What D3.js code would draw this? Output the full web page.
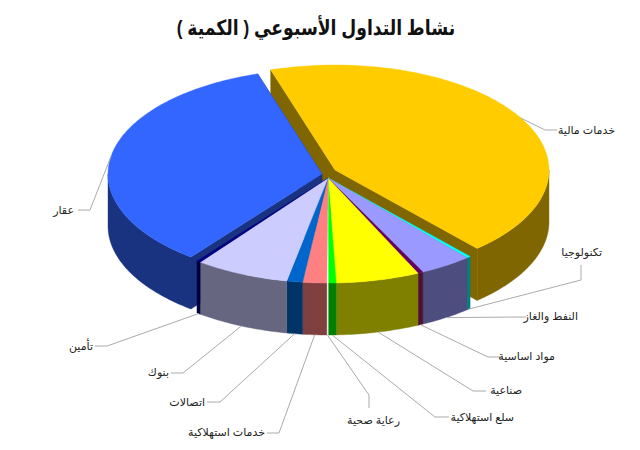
<!DOCTYPE html>
<html lang="ar">
<head>
<meta charset="utf-8">
<script src="https://cdn.jsdelivr.net/npm/d3@7"></script>
<style>
html,body{margin:0;padding:0;background:#fff}
svg{display:block}
text{font-family:"Liberation Sans",Arial,"DejaVu Sans",sans-serif;direction:rtl;unicode-bidi:plaintext}
</style>
</head>
<body>
<script>
const chartTitle = "نشاط التداول الأسبوعي ( الكمية )";
const categories = ["خدمات مالية","تكنولوجيا","النفط والغاز","مواد اساسية","صناعية","سلع استهلاكية","رعاية صحية","خدمات استهلاكية","اتصالات","بنوك","تأمين","عقار"];
const shares = [43.3,0.3,3.95,0.4,6.3,0.6,0.1,1.8,1.2,7.1,0.3,34.65];

const topColors = ["#ffcc00","#00ffff","#9999ff","#660066","#ffff00","#00ff00","#ffffff","#ff8080","#0066cc","#ccccff","#000080","#3366ff"];
const sideColors = ["#806600","#008080","#4d4d80","#4d1033","#808000","#008000","#ffffff","#804040","#003366","#666680","#000040","#1a3380"];
const explodeX = [7,0,0,0,0,0,0,0,0,0,0,-6];
const explodeY = [-8,0,0,0,0,0,0,0,0,0,0,-4];
const elbowX = [545,581,520,488,473,435,369,279,220,183,107,90];
const elbowY = [130,280,317,357,391,417,395,433,402,373,346,210];
const labelEndX = [557,581,526,500,486,449,369,267,207,171,95,78];
const labelEndY = [130,265,317,357,391,417,408,433,402,373,346,210];
const labelX = [615,602,578,555,522,514,400,265,205,169,93,74];
const labelY = [130,252,316,356,390,417,420,432,402,372,346,210];

const W = 640, H = 450, cx = 328, cy = 178, rx = 214, ry = 105, depth = 52;
const deg = Math.PI / 180;
const svg = d3.select("body").append("svg").attr("width", W).attr("height", H);
const pie = d3.pie().sort(null).value(d => d).startAngle(-17.5 * deg).endAngle(342.5 * deg);
const arcs = pie(shares);
const pathLine = d3.line().x(p => p[0]).y(p => p[1]);
const px = (i, a) => cx + explodeX[i] + rx * Math.sin(a);
const py = (i, a, z = 0) => cy + explodeY[i] - ry * Math.cos(a) + z;
const apex = (i, z = 0) => [cx + explodeX[i], cy + explodeY[i] + z];
const rim = (i, a0, a1, z = 0) => {
  const n = Math.max(2, Math.ceil((a1 - a0) / (1 * deg)));
  return d3.range(n + 1).map(k => { const a = a0 + (a1 - a0) * k / n; return [px(i, a), py(i, a, z)]; });
};

function drawRadialWalls(i) {
  const a = arcs[i], side = sideColors[i];
  [a.startAngle, a.endAngle].forEach(t => {
    const q = [apex(i), [px(i, t), py(i, t)], [px(i, t), py(i, t, depth)], apex(i, depth)];
    svg.append("path").attr("d", pathLine(q) + "Z").attr("fill", side).attr("stroke", side).attr("stroke-width", 0.4);
  });
}
function drawOuterWall(i) {
  const a = arcs[i], side = sideColors[i];
  const lo = Math.max(a.startAngle, 90 * deg), hi = Math.min(a.endAngle, 270 * deg);
  if (hi > lo) {
    const wall = rim(i, lo, hi).concat(rim(i, lo, hi, depth).reverse());
    svg.append("path").attr("d", pathLine(wall) + "Z").attr("fill", side).attr("stroke", side).attr("stroke-width", 0.4);
  }
}
function drawTop(i) {
  const a = arcs[i];
  const face = [apex(i)].concat(rim(i, a.startAngle, a.endAngle));
  svg.append("path").attr("d", pathLine(face) + "Z").attr("fill", topColors[i]).attr("stroke", topColors[i]).attr("stroke-width", 0.4);
}

[0, 11].forEach(i => { drawRadialWalls(i); drawOuterWall(i); drawTop(i); });
const middle = d3.range(1, 11);
middle.forEach(drawOuterWall);
middle.forEach(drawTop);

// leader lines
const isFront = a => { const m = (a.startAngle + a.endAngle) / 2; return m > 90 * deg && m < 270 * deg; };
arcs.forEach((a, i) => {
  const m = (a.startAngle + a.endAngle) / 2;
  const pts = [[px(i, m), py(i, m, isFront(a) ? depth : 0)], [elbowX[i], elbowY[i]], [labelEndX[i], labelEndY[i]]];
  svg.append("path").attr("d", pathLine(pts)).attr("fill", "none").attr("stroke", "#aaaaaa").attr("stroke-width", 1);
});

categories.forEach((c, i) => {
  svg.append("text").attr("x", labelX[i]).attr("y", labelY[i]).attr("dy", "0.35em")
    .attr("text-anchor", "start").attr("font-size", 11).attr("fill", "#222").text(c);
});

svg.append("text").attr("transform", "translate(316,28) scale(0.86,1.05)").attr("dy", "0.35em").attr("text-anchor", "middle")
  .attr("font-size", 20).attr("font-weight", "bold").attr("fill", "#111").text(chartTitle);
</script>
</body>
</html>
